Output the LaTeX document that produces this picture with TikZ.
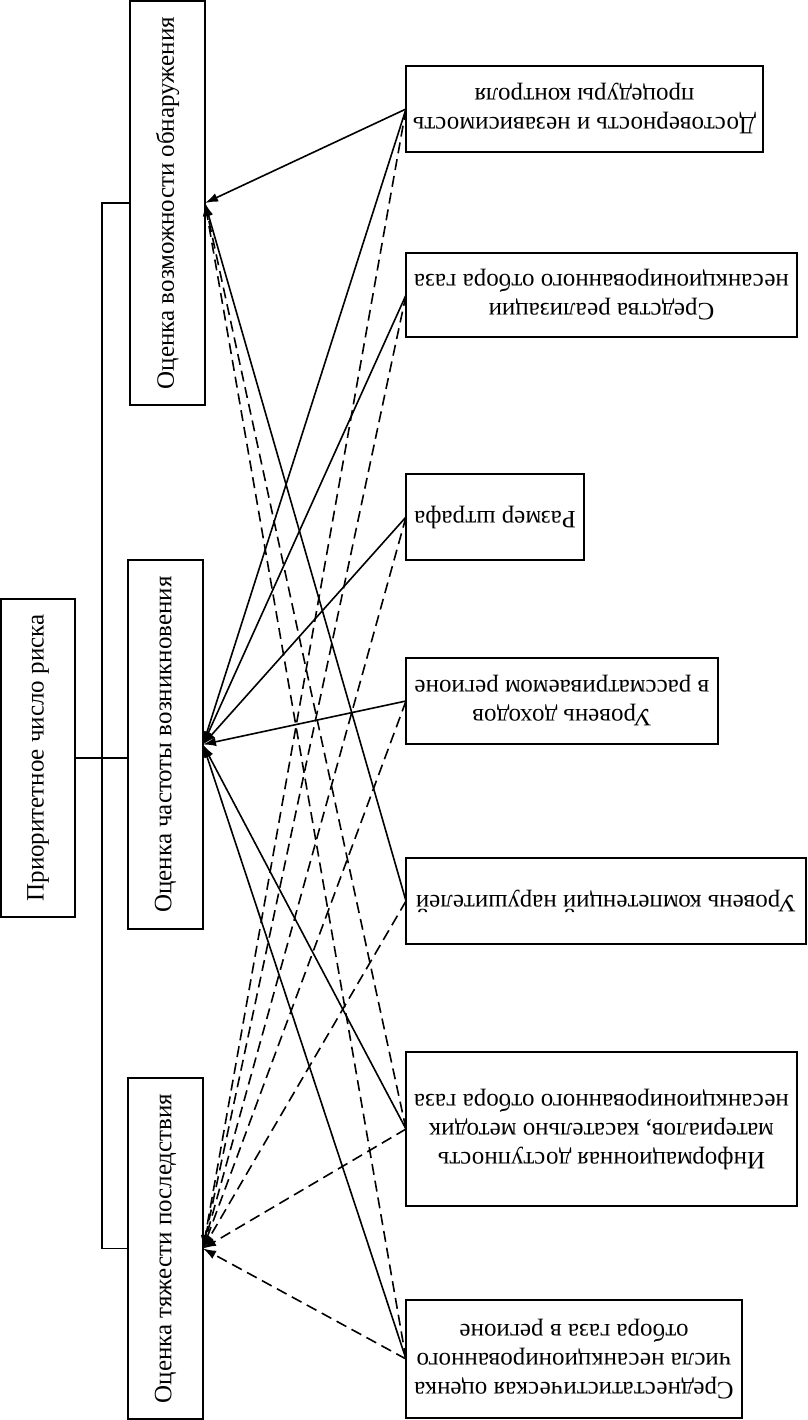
\documentclass[tikz,border=0pt]{standalone}
\usepackage{fontspec}
\setmainfont{Liberation Serif}
\usepackage{graphicx}
\usetikzlibrary{arrows.meta}
\begin{document}
\begin{tikzpicture}[x=1pt,y=-1pt,
  box/.style={draw,line width=1.4pt,fill=white,inner sep=0pt,outer sep=0pt,
    font=\fontsize{25}{29}\selectfont},
  conn/.style={line width=1.6pt,-{Latex[length=13pt,width=9pt]}},
  dconn/.style={conn,dash pattern=on 11pt off 6pt},
  tree/.style={line width=1.4pt}]
\useasboundingbox (0,0) rectangle (807,1420);
\newcommand{\vtext}[1]{\rotatebox{90}{#1}}
\newcommand{\utext}[1]{\rotatebox[origin=c]{180}{\begin{tabular}{@{}c@{}}#1\end{tabular}}}
% left column
\node[box,minimum width=75,minimum height=404] (A) at (167.5,203) {\vtext{Оценка возможности обнаружения}};
\node[box,minimum width=74,minimum height=318] (root) at (38,758) {\vtext{Приоритетное число риска}};
\node[box,minimum width=75,minimum height=369] (B) at (165.5,744.5) {\vtext{Оценка частоты возникновения}};
\node[box,minimum width=75,minimum height=341] (C) at (165.5,1248.5) {\vtext{Оценка тяжести последствия}};
% right column
\node[box,minimum width=357,minimum height=86] (R1) at (584.5,109) {\utext{Достоверность и независимость\\процедуры контроля}};
\node[box,minimum width=391,minimum height=84] (R2) at (601.5,295) {\utext{Средства реализации\\несанкционированного отбора газа}};
\node[box,minimum width=178,minimum height=86] (R3) at (495,517) {\utext{Размер штрафа}};
\node[box,minimum width=312,minimum height=86] (R4) at (562,701) {\utext{Уровень доходов\\в рассматриваемом регионе}};
\node[box,minimum width=400,minimum height=86] (R5) at (606,901) {\utext{Уровень компетенций нарушителей}};
\node[box,minimum width=391,minimum height=154] (R6) at (601.5,1129) {\utext{Информационная доступность\\материалов, касательно методик\\несанкционированного отбора газа}};
\node[box,minimum width=336,minimum height=118] (R7) at (574,1359) {\utext{Среднестатистическая оценка\\числа несанкционированного\\отбора газа в регионе}};
% tree
\coordinate (s) at (102,0);
\draw[tree] (A.west) -- (A.west -| s) |- (C.west);
\draw[tree] (root.east) -- (root.east -| B.west);
% solid connectors
\draw[conn] (R1.west) -- (A.east);
\draw[conn] (R1.west) -- (B.east);
\draw[conn] (R2.west) -- (B.east);
\draw[conn] (R3.west) -- (B.east);
\draw[conn] (R4.west) -- (B.east);
\draw[conn] (R5.west) -- (A.east);
\draw[conn] (R6.west) -- (B.east);
\draw[conn] (R7.west) -- (B.east);
% dashed connectors
\draw[dconn] (R1.west) -- (C.east);
\draw[dconn] (R2.west) -- (C.east);
\draw[dconn] (R3.west) -- (C.east);
\draw[dconn] (R4.west) -- (C.east);
\draw[dconn] (R5.west) -- (C.east);
\draw[dconn] (R6.west) -- (C.east);
\draw[dconn] (R7.west) -- (C.east);
\draw[dconn] (R6.west) -- (A.east);
\draw[dconn] (R7.west) -- (A.east);
\end{tikzpicture}
\end{document}
